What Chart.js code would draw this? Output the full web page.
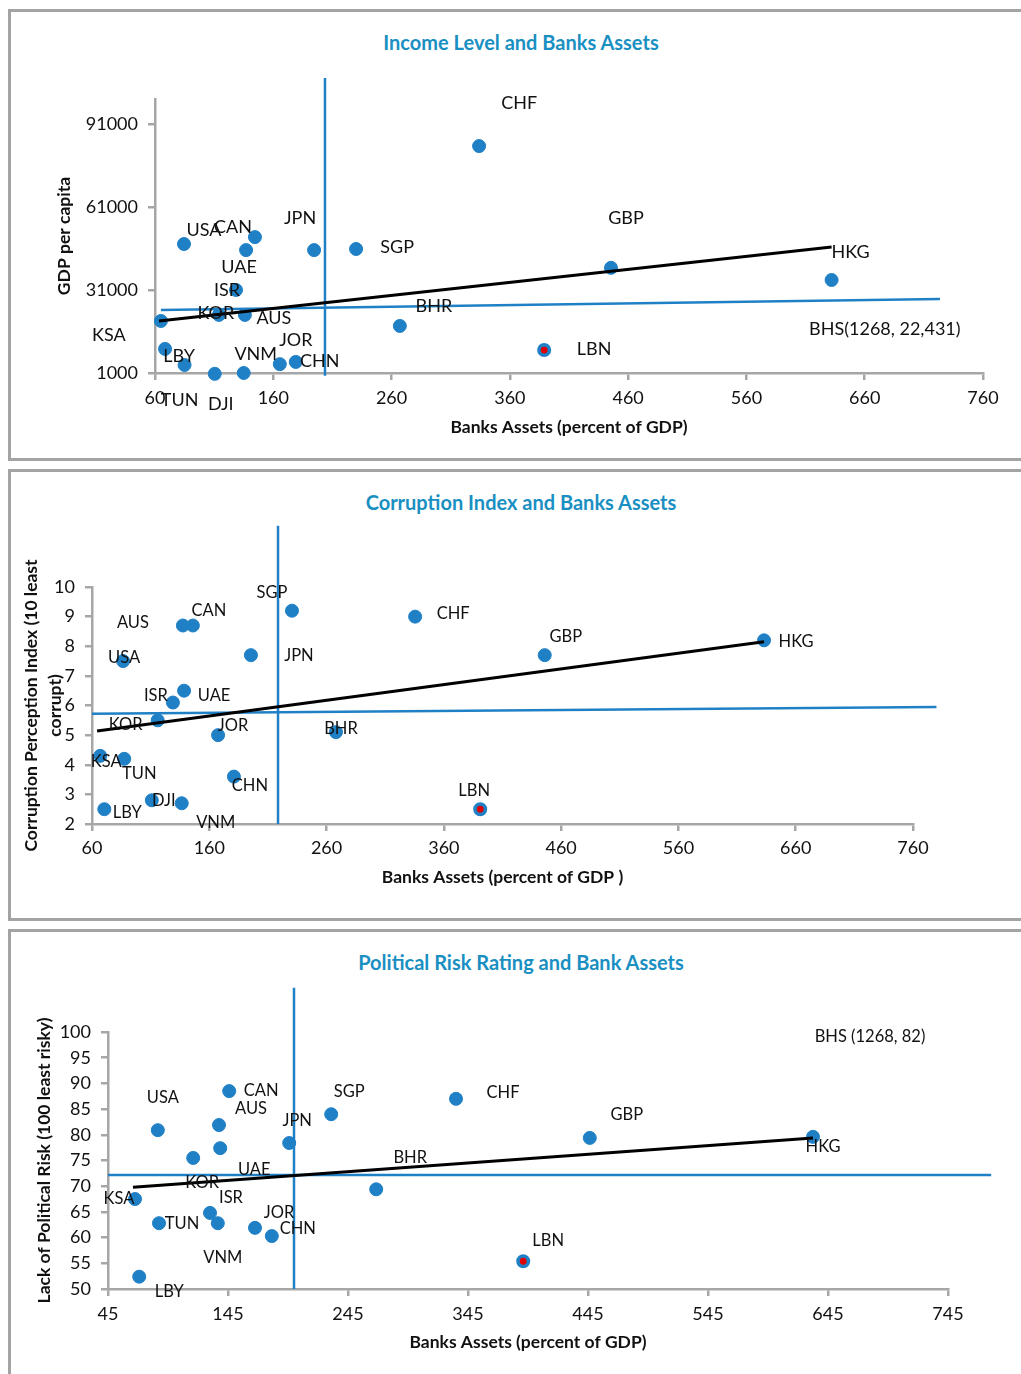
<!DOCTYPE html>
<html>
<head>
<meta charset="utf-8">
<script src="https://cdn.jsdelivr.net/npm/chart.js@4.4.0/dist/chart.umd.min.js"></script>
<style>
  body { margin: 0; background: #fff; width: 1021px; height: 1374px; position: relative; overflow: hidden; font-family: Lato, "Open Sans", sans-serif; }
  .panel { position: absolute; left: 8px; width: 1100px; border: 3px solid #a3a3a3; box-sizing: border-box; }
  .title { position: absolute; left: 0; width: 1042px; text-align: center; font: bold 20px Lato, "Open Sans", sans-serif; color: #1a8fc2; line-height: 24px; }
  canvas { position: absolute; left: 0; }
</style>
</head>
<body>
<div class="panel" style="top:9px;height:452px"></div>
<div class="panel" style="top:469px;height:452px"></div>
<div class="panel" style="top:929px;height:500px"></div>

<div class="title" style="top:30px">Income Level and Banks Assets</div>
<div class="title" style="top:490px">Corruption Index and Banks Assets</div>
<div class="title" style="top:950px">Political Risk Rating and Bank Assets</div>

<div style="position:absolute;left:0;top:0;width:1021px;height:460px"><canvas id="c1"></canvas></div>
<div style="position:absolute;left:0;top:460px;width:1021px;height:460px"><canvas id="c2"></canvas></div>
<div style="position:absolute;left:0;top:920px;width:1021px;height:454px"><canvas id="c3"></canvas></div>

<script>
// ---- chart 1: income level ----
const names1  = ["USA", "CAN", "UAE", "JPN", "SGP", "ISR", "KOR", "AUS", "KSA", "LBY", "TUN", "DJI", "VNM", "JOR", "CHN", "BHR", "CHF", "GBP", "HKG", "LBN"];
const assets1 = [84.5, 144.5, 137, 194.5, 230, 128.5, 114, 136, 65, 68.5, 85, 110.5, 135, 165.5, 179, 267, 334, 445.5, 632, 389];
const gdp1    = [47600, 50100, 45400, 45400, 45800, 31000, 22000, 22000, 19800, 9700, 3900, 700, 1000, 4200, 5000, 18000, 83000, 39000, 34600, 9300];
const yTicks1 = [1000, 31000, 61000, 91000];
const meanX1  = [203.7, 203.7], meanX1y = [107600, 0];
const meanY1x = [65, 723.6],    meanY1  = [23770, 27740];
const trend1x = [63.4, 632],    trend1y = [19800, 46540];
const note1 = { text: "BHS(1268, 22,431)", x: 677, y: 16900 };
const shift1 = [[20,-14],[-22,-10],[-7,17],[-14,-32],[41,-2],[-9,0],[-3,-2],[29,3],[-52,14],[14,7],
                [-5,35],[6,30],[12,-19],[16,-24],[24,-1],[34,-20],[40,-43],[15,-50],[19,-28],[50,-1]];

// ---- chart 2: corruption index ----
const names2  = ["SGP", "CHF", "AUS", "CAN", "JPN", "USA", "UAE", "ISR", "KOR", "JOR", "BHR", "KSA", "TUN", "CHN", "DJI", "VNM", "LBY", "LBN", "GBP", "HKG"];
const assets2 = [230.5, 335.5, 137.5, 146, 195.5, 86.5, 138.5, 129, 116, 167.5, 268, 67, 87.5, 181, 111, 136.5, 70.5, 391, 446, 633];
const cpi2    = [9.2, 9.0, 8.7, 8.7, 7.7, 7.5, 6.5, 6.1, 5.5, 5.0, 5.1, 4.3, 4.2, 3.6, 2.8, 2.7, 2.5, 2.5, 7.7, 8.2];
const meanX2  = [218.6, 218.6], meanX2y = [12.07, 2];
const meanY2x = [60, 780],      meanY2  = [5.72, 5.95];
const trend2x = [64.3, 633],    trend2y = [5.14, 8.15];
const shift2 = [[-20,-18],[38,-3],[-50,-3],[16,-15],[48,1],[1,-3],[30,5],[-17,-7],[-32,4],[15,-9],
                [5,-3],[6,6],[15,15],[16,9],[12,0],[34,19],[23,3],[-6,-19],[21,-18],[32,1]];

// ---- chart 3: political risk ----
const names3  = ["CAN", "CHF", "SGP", "AUS", "USA", "GBP", "HKG", "JPN", "UAE", "KOR", "BHR", "KSA", "ISR", "TUN", "VNM", "JOR", "CHN", "LBN", "LBY"];
const assets3 = [146, 335, 231, 137.5, 86.5, 446.5, 632.5, 196, 138.5, 116, 268.5, 67.5, 130, 87.5, 136.5, 167.5, 181.5, 391, 71];
const risk3   = [88.5, 87.0, 84.0, 81.9, 80.9, 79.4, 79.6, 78.4, 77.4, 75.5, 69.4, 67.5, 64.8, 62.8, 62.8, 61.9, 60.3, 55.4, 52.4];
const meanX3  = [200, 200],  meanX3y = [108.6, 50];
const meanY3x = [45, 781],   meanY3  = [72.2, 72.2];
const trend3x = [65.8, 632.5], trend3y = [69.8, 79.4];
const note3 = { text: "BHS (1268, 82)", x: 680, y: 99 };
const shift3 = [[32,0],[47,-6],[18,-23],[32,-16],[5,-33],[37,-23],[10,10],[8,-22],[34,22],[9,25],
                [34,-32],[-16,0],[21,-15],[23,0],[5,34],[24,-15],[26,-7],[25,-21],[30,15]];

const FONT = 'Lato, "Open Sans", sans-serif';
const dotBlue = '#1f80c6';
const lineBlue = '#1f80c6';
const axisGray = '#a6a6a6';

function pts(xs, ys) {
  return xs.map((x, i) => ({ x: x, y: ys[i] }));
}

function lineSet(xs, ys, color, width) {
  return { data: pts(xs, ys), showLine: true, pointRadius: 0, borderColor: color, borderWidth: width, clip: false };
}

function pointSet(names, xs, ys) {
  return {
    data: pts(xs, ys),
    pointRadius: names.map(n => n === 'LBN' ? 5.2 : 6.5),
    pointBorderWidth: names.map(n => n === 'LBN' ? 3.6 : 1),
    pointBackgroundColor: names.map(n => n === 'LBN' ? '#e00000' : dotBlue),
    pointBorderColor: dotBlue,
    clip: false
  };
}

// writes the country names next to their dots
function labelPlugin(names, shifts, size, note) {
  return {
    id: 'countryLabels',
    afterDatasetsDraw(chart) {
      const meta = chart.getDatasetMeta(chart.data.datasets.length - 1);
      const ctx = chart.ctx;
      ctx.save();
      ctx.font = size + 'px ' + FONT;
      ctx.fillStyle = '#111';
      ctx.textAlign = 'center';
      ctx.textBaseline = 'middle';
      meta.data.forEach((p, i) => {
        ctx.fillText(names[i], p.x + shifts[i][0], p.y + shifts[i][1]);
      });
      if (note) {
        ctx.fillText(note.text, chart.scales.x.getPixelForValue(note.x), chart.scales.y.getPixelForValue(note.y));
      }
      ctx.restore();
    }
  };
}

function axis(extra) {
  return Object.assign({
    type: 'linear',
    border: { display: true, color: axisGray, width: 2.5 },
    grid: { drawOnChartArea: false, drawTicks: true, tickLength: 7, color: axisGray, lineWidth: 2.5 },
  }, extra);
}

function makeChart(id, cfg) {
  return new Chart(document.getElementById(id), {
    type: 'scatter',
    data: { datasets: cfg.datasets },
    plugins: [cfg.labels],
    options: {
      responsive: true,
      maintainAspectRatio: false,
      animation: false,
      events: [],
      layout: { padding: cfg.padding },
      plugins: { legend: { display: false }, tooltip: { enabled: false } },
      scales: {
        x: axis({
          min: cfg.xMin, max: cfg.xMax,
          afterFit: s => { s.height = cfg.xHeight; },
          ticks: { stepSize: 100, autoSkip: false, maxRotation: 0, padding: cfg.xPad, color: '#111', font: { family: FONT, size: 18 } },
          title: { display: true, text: cfg.xTitle, color: '#111', padding: 0, font: { family: FONT, size: 17.5, weight: 'bold', lineHeight: 1.2 } }
        }),
        y: axis({
          min: cfg.yMin, max: cfg.yMax,
          afterFit: s => { s.width = cfg.yWidth; },
          afterBuildTicks: cfg.yTicks ? (s => { s.ticks = cfg.yTicks.map(v => ({ value: v })); }) : undefined,
          ticks: { stepSize: cfg.yStep, padding: 10, color: '#111', font: { family: FONT, size: 18 }, callback: v => String(v) },
          title: { display: true, text: cfg.yTitle, color: '#111', padding: 0, font: { family: FONT, size: 17.5, weight: 'bold', lineHeight: cfg.yLine || 1.2 } }
        })
      }
    }
  });
}

makeChart('c1', {
  datasets: [
    lineSet(trend1x, trend1y, '#000', 3),
    lineSet(meanX1, meanX1y, lineBlue, 2.5),
    lineSet(meanY1x, meanY1, lineBlue, 2.5),
    pointSet(names1, assets1, gdp1)
  ],
  labels: labelPlugin(names1, shift1, 18, note1),
  padding: { left: 54, right: 38, top: 99, bottom: 22 },
  xMin: 60, xMax: 760, xHeight: 65, xPad: 7,
  yMin: 1000, yMax: 100000, yWidth: 101, yTicks: yTicks1, yStep: 30000,
  xTitle: 'Banks Assets (percent of GDP)',
  yTitle: 'GDP per capita'
});

makeChart('c2', {
  datasets: [
    lineSet(trend2x, trend2y, '#000', 3),
    lineSet(meanX2, meanX2y, lineBlue, 2.5),
    lineSet(meanY2x, meanY2, lineBlue, 2.5),
    pointSet(names2, assets2, cpi2)
  ],
  labels: labelPlugin(names2, shift2, 16.5),
  padding: { left: 20, right: 108, top: 127, bottom: 32 },
  xMin: 60, xMax: 760, xHeight: 64, xPad: 6,
  yMin: 2, yMax: 10, yWidth: 72, yStep: 1,
  xTitle: 'Banks Assets (percent of GDP )',
  yTitle: ['Corruption Perception Index (10 least', 'corrupt)'], yLine: 1.35
});

makeChart('c3', {
  datasets: [
    lineSet(trend3x, trend3y, '#000', 3),
    lineSet(meanX3, meanX3y, lineBlue, 2.5),
    lineSet(meanY3x, meanY3, lineBlue, 2.5),
    pointSet(names3, assets3, risk3)
  ],
  labels: labelPlugin(names3, shift3, 16.5, note3),
  padding: { left: 34, right: 73, top: 112, bottom: 21 },
  xMin: 45, xMax: 745, xHeight: 64, xPad: 7,
  yMin: 50, yMax: 100, yWidth: 74, yStep: 5,
  xTitle: 'Banks Assets (percent of GDP)',
  yTitle: 'Lack of Political Risk (100 least risky)'
});
</script>
</body>
</html>
